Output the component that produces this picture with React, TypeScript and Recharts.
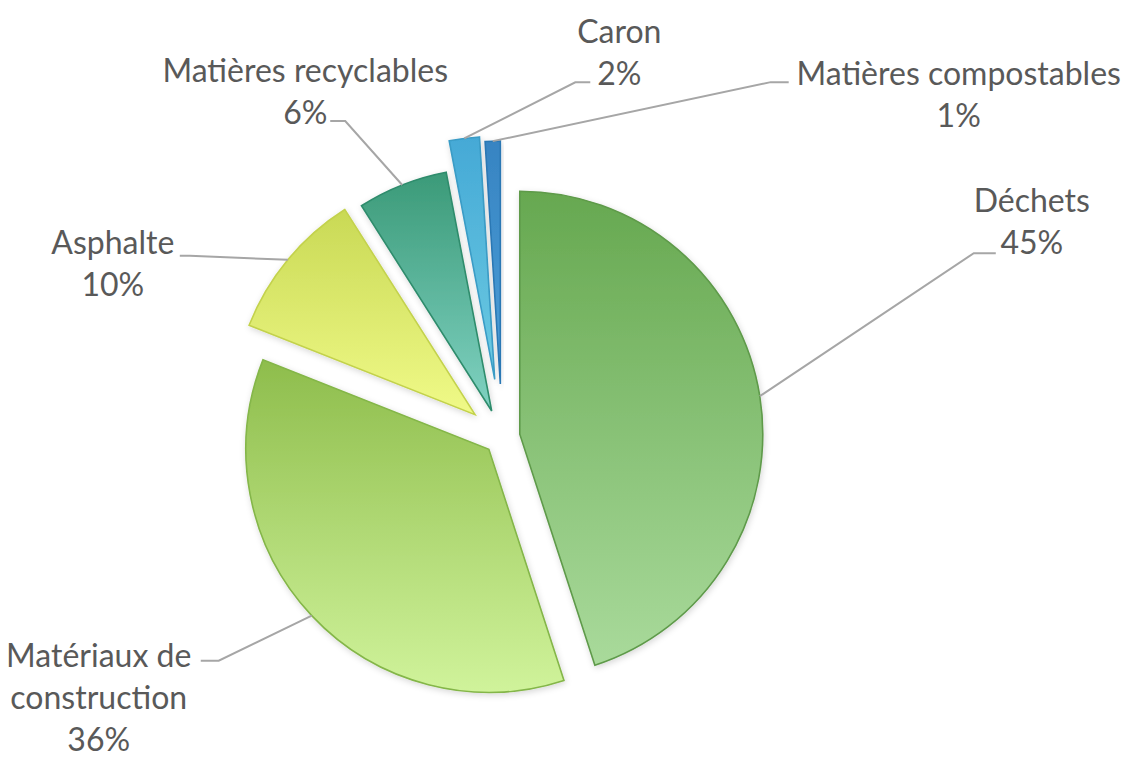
import React from 'react';
import { PieChart, Pie, Cell, Sector } from 'recharts';

// ---- data ----
const categories = [
  'Déchets',
  'Matériaux de construction',
  'Asphalte',
  'Matières recyclables',
  'Caron',
  'Matières compostables',
];
const values = [45, 36, 10, 6, 2, 1];
const labelTexts = [
  ['Déchets'],
  ['Matériaux de', 'construction'],
  ['Asphalte'],
  ['Matières recyclables'],
  ['Caron'],
  ['Matières compostables'],
];

const data = categories.map((name, i) => ({ name, value: values[i] }));

// ---- styles ----
// [top colour, bottom colour, stroke]
const sliceColors = [
  ['#66a850', '#a9da9b', '#5e9a4a'],
  ['#8ebd4c', '#d0f39b', '#84b648'],
  ['#c9d955', '#f0fa88', '#c3d24c'],
  ['#3b9a78', '#80d2c2', '#2f8c6c'],
  ['#45a9d6', '#6ccbe2', '#3a9cc6'],
  ['#3784c2', '#4c9fd8', '#2c78b4'],
];
// explosion distance of each slice (px)
const explode = [18, 18, 35, 28, 58, 53];
// label layout, relative to the slice's arc midpoint
const labelLayout = [
  { ex: 214, ey: -143, h: 22, tx: 58, ty: -52 },
  { ex: -93, ey: 45, h: -18, tx: -120, ty: -5 },
  { ex: -98, ey: -4, h: -10, tx: -77, ty: -13 },
  { ex: -57, ey: -64, h: -15, tx: -40, ty: -50 },
  { ex: 111, ey: -56, h: 15, tx: 44, ty: -50 },
  { ex: 278, ey: -59, h: 18, tx: 188, ty: -8 },
];

const RAD = Math.PI / 180;
const FONT = 'Lato, "Open Sans", sans-serif';
const LINE_H = 42;

const indexOfName = (name: string) => categories.indexOf(name);

const ExplodedSector = (props: any) => {
  const name = props?.payload?.name ?? props?.name;
  let i = typeof props.index === 'number' ? props.index : indexOfName(name);
  if (i < 0) i = indexOfName(name);
  const d = explode[i] ?? 0;
  const mid = props.midAngle ?? (props.startAngle + props.endAngle) / 2;
  const dx = Math.cos(-mid * RAD) * d;
  const dy = Math.sin(-mid * RAD) * d;
  return (
    <Sector
      {...props}
      cx={props.cx + dx}
      cy={props.cy + dy}
      fill={`url(#grad${i})`}
      stroke={sliceColors[i][2]}
      strokeWidth={1.6}
      filter="url(#soft)"
    />
  );
};

const renderLabel = (props: any) => {
  const { cx, cy, midAngle, outerRadius, index, percent } = props;
  const i = index;
  const ux = Math.cos(-midAngle * RAD);
  const uy = Math.sin(-midAngle * RAD);
  const rr = outerRadius + explode[i];
  const px = cx + ux * rr;
  const py = cy + uy * rr;
  const L = labelLayout[i];
  const ex = px + L.ex;
  const ey = py + L.ey;
  const hx = ex + L.h;
  const tcx = ex + L.tx;
  const tcy = ey + L.ty;
  const lines = [...labelTexts[i], `${Math.round(percent * 100)}%`];
  return (
    <g key={`lbl${i}`}>
      <polyline
        points={`${px},${py} ${ex},${ey} ${hx},${ey}`}
        fill="none"
        stroke="#a6a6a6"
        strokeWidth={2}
      />
      <text
        x={tcx}
        textAnchor="middle"
        fill="#595959"
        fontFamily={FONT}
        fontSize={32}
      >
        {lines.map((t, k) => (
          <tspan key={k} x={tcx} y={tcy + k * LINE_H + 11}>
            {t}
          </tspan>
        ))}
      </text>
    </g>
  );
};

export default function App() {
  return (
    <div style={{ position: 'absolute', left: 0, top: 0, width: 1126, height: 758, background: '#fff' }}>
      <PieChart width={1126} height={758} margin={{ top: 0, right: 0, bottom: 0, left: 0 }}>
        <defs>
          {sliceColors.map((c, i) => (
            <linearGradient key={i} id={`grad${i}`} x1="0" y1="0" x2="0" y2="1">
              <stop offset="0%" stopColor={c[0]} />
              <stop offset="100%" stopColor={c[1]} />
            </linearGradient>
          ))}
          <filter id="soft" x="-20%" y="-20%" width="140%" height="140%">
            <feDropShadow dx="1" dy="2" stdDeviation="3" floodColor="#000" floodOpacity="0.16" />
          </filter>
        </defs>
        <Pie
          data={data}
          dataKey="value"
          nameKey="name"
          cx={502}
          cy={437}
          outerRadius={243}
          startAngle={90}
          endAngle={-270}
          isAnimationActive={false}
          shape={ExplodedSector}
          inactiveShape={ExplodedSector}
          label={renderLabel}
          labelLine={false}
        >
          {data.map((d, i) => (
            <Cell key={d.name} fill={`url(#grad${i})`} stroke={sliceColors[i][2]} />
          ))}
        </Pie>
      </PieChart>
    </div>
  );
}
